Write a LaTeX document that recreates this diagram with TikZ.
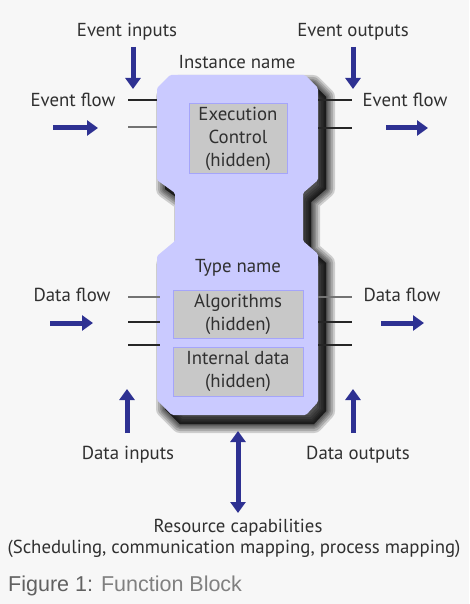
\documentclass[tikz,border=0pt]{standalone}
\usepackage{fontspec}
\setmainfont{PT Sans}
\newfontfamily\capfont{Liberation Sans}
\usetikzlibrary{arrows.meta}
\definecolor{fbblue}{RGB}{202,202,255}
\definecolor{fbarrow}{RGB}{46,49,146}
\definecolor{fbgray}{RGB}{200,200,200}
\definecolor{fbedge}{RGB}{165,165,250}
\definecolor{fbtext}{RGB}{48,48,48}
\definecolor{fbbg}{RGB}{247,247,247}
\newcommand{\fbbody}{(170,75) -- (305,75) -- (318,88) -- (318,180) -- (303,193) -- (303,241)
	  -- (318,254) -- (318,402) -- (306,415) -- (172,415) -- (157,400)
	  -- (157,256) -- (175,241) -- (175,193) -- (157,180) -- (157,88) -- cycle}
\tikzset{
  lbl/.style={text=fbtext, inner sep=0pt, font=\fontsize{18.8}{23}\selectfont},
  hidbox/.style={fill=fbgray, draw=fbedge, line width=1pt, text=fbtext,
    inner sep=0pt, align=center, font=\fontsize{18.8}{23}\selectfont},
  flow/.style={line width=5pt, fbarrow, -{Triangle[width=15pt,length=11pt]}},
  bothflow/.style={line width=5pt, fbarrow, {Triangle[width=15pt,length=11pt]}-{Triangle[width=15pt,length=11pt]}},
  pin/.style={line width=1.6pt, black!85},
  pingray/.style={line width=1.6pt, black!55},
}
\begin{document}
\begin{tikzpicture}[x=1pt, y=-1pt]
	% Background
	\fill[fbbg] (0,0) rectangle (469,604);
	\useasboundingbox (0,0) rectangle (469,604);

	% Shadow, built up in soft layers
	\foreach \w in {18,14,10,7,4,1}
	  \filldraw[black, opacity=0.17, line width=\w pt, line join=round, shift={(8,9)}] \fbbody;

	% Block body
	\fill[fbblue, rounded corners=1.5pt] \fbbody;

	% Hidden parts
	\node[hidbox, minimum width=98pt, minimum height=69pt] (exec) at (238,138.5) {Execution\\Control\\(hidden)};
	\node[hidbox, minimum width=130pt, minimum height=48pt] (algo) at (238,314) {Algorithms\\(hidden)};
	\node[hidbox, minimum width=130pt, minimum height=49pt] (idata) at (238,371.5) {Internal data\\(hidden)};

	% Names
	\node[lbl] (inst) at (237,62) {Instance name};
	\node[lbl] (type) at (238,268) {Type name};

	% Pins
	\draw[pin] (128,100) -- (157,100);
	\draw[pingray] (128,127) -- (157,127);
	\draw[pin] (318,100) -- (352,100);
	\draw[pin] (318,128) -- (352,128);
	\draw[pingray] (128,297) -- (160,297);
	\draw[pin] (128,322) -- (160,322);
	\draw[pin] (128,345) -- (160,345);
	\draw[pingray] (318,297) -- (352,297);
	\draw[pin] (318,322) -- (352,322);
	\draw[pin] (318,345) -- (352,345);

	% Event side
	\node[lbl] (evin) at (127,32) {Event inputs};
	\node[lbl] (evout) at (353,32) {Event outputs};
	\node[lbl] (evflowl) at (73,100) {Event flow};
	\node[lbl] (evflowr) at (405,100) {Event flow};
	\coordinate (evinA) at (133,47);  \coordinate (evinB) at (133,89);
	\coordinate (evoutA) at (353,47); \coordinate (evoutB) at (353,89);
	\coordinate (evlA) at (53,128);   \coordinate (evlB) at (98,128);
	\coordinate (evrA) at (386,128);  \coordinate (evrB) at (428,128);
	\draw[flow] (evinA) -- (evinB);
	\draw[flow] (evoutA) -- (evoutB);
	\draw[flow] (evlA) -- (evlB);
	\draw[flow] (evrA) -- (evrB);

	% Data side
	\node[lbl] (dflowl) at (72,295) {Data flow};
	\node[lbl] (dflowr) at (402,295) {Data flow};
	\node[lbl] (din) at (128,455) {Data inputs};
	\node[lbl] (dout) at (358,455) {Data outputs};
	\coordinate (dlA) at (50,323);  \coordinate (dlB) at (93,323);
	\coordinate (drA) at (381,323); \coordinate (drB) at (424,323);
	\coordinate (dinA) at (127,433);  \coordinate (dinB) at (127,389);
	\coordinate (doutA) at (353,433); \coordinate (doutB) at (353,389);
	\draw[flow] (dlA) -- (dlB);
	\draw[flow] (drA) -- (drB);
	\draw[flow] (dinA) -- (dinB);
	\draw[flow] (doutA) -- (doutB);

	% Resources
	\coordinate (resA) at (238,431); \coordinate (resB) at (238,513);
	\draw[bothflow] (resA) -- (resB);
	\node[lbl] (res) at (238,528) {Resource capabilities};
	\node[lbl] (resdet) at (234,549) {(Scheduling, communication mapping, process mapping)};

	% Caption
	\node[anchor=west, inner sep=0pt, font=\capfont\fontsize{21.5}{24}\selectfont] (cap) at (8,586)
	  {\textcolor{black!62}{Figure 1:} \textcolor{black!50}{Function Block}};
\end{tikzpicture}
\end{document}
